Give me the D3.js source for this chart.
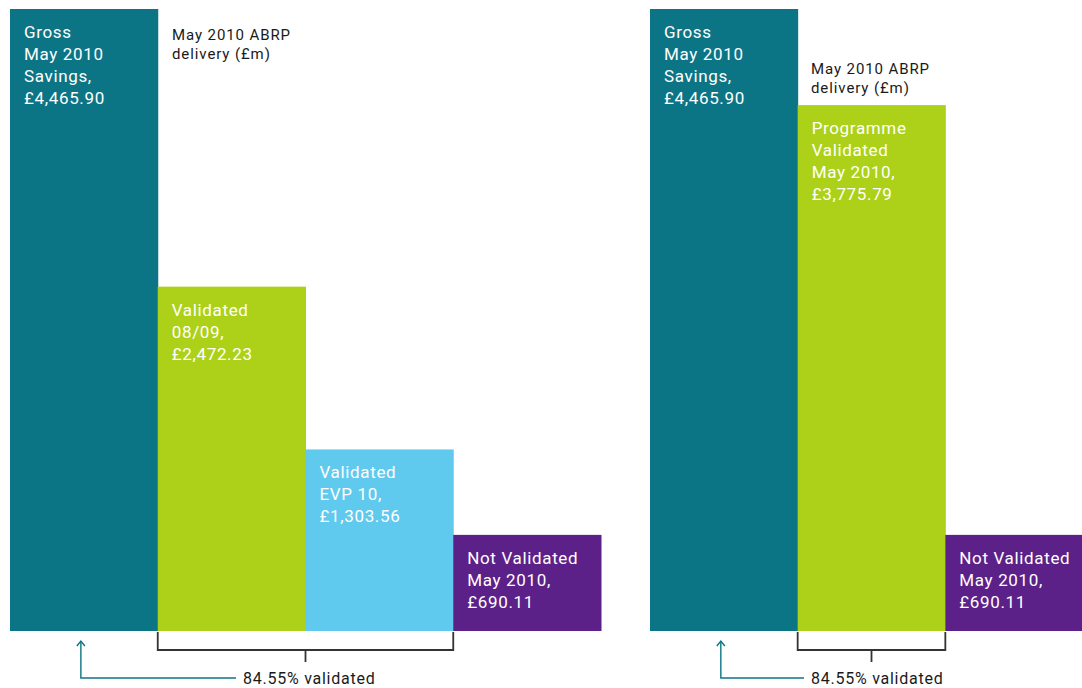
<!DOCTYPE html>
<html>
<head>
<meta charset="utf-8">
<script src="https://cdn.jsdelivr.net/npm/d3@7"></script>
<style>
  body { margin: 0; background: #fff; }
  svg { display: block; font-family: "Roboto", "DejaVu Sans", sans-serif; }
</style>
</head>
<body>
<div id="chart"></div>
<script>
// left panel: breakdown of validation
var leftCats = ["gross", "val0809", "evp10", "notval"];
var leftValues = [4465.90, 2472.23, 1303.56, 690.11];
var leftLabels = [
  ["Gross", "May 2010", "Savings,", "£4,465.90"],
  ["Validated", "08/09,", "£2,472.23"],
  ["Validated", "EVP 10,", "£1,303.56"],
  ["Not Validated", "May 2010,", "£690.11"]
];
var leftValidated = ["val0809", "evp10"];

// right panel: programme total
var rightCats = ["gross", "progval", "notval"];
var rightValues = [4465.90, 3775.79, 690.11];
var rightLabels = [
  ["Gross", "May 2010", "Savings,", "£4,465.90"],
  ["Programme", "Validated", "May 2010,", "£3,775.79"],
  ["Not Validated", "May 2010,", "£690.11"]
];
var rightValidated = ["progval"];

var title = ["May 2010 ABRP", "delivery (£m)"];
var validatedText = "84.55% validated";

var colors = {
  gross: "#0c7585",
  val0809: "#acd118",
  evp10: "#5fcaee",
  progval: "#acd118",
  notval: "#5b2189"
};

var width = 1082, height = 688;
var svg = d3.select("#chart").append("svg")
    .attr("width", width)
    .attr("height", height);

var y = d3.scaleLinear()
    .domain([0, 4465.90])
    .range([631, 9]);

function panel(cats, values, labels, validated, x0, x1, titlePos, textX) {
  var x = d3.scaleBand().domain(cats).range([x0, x1]).padding(0);
  var g = svg.append("g");

  g.selectAll("rect")
    .data(cats)
    .enter().append("rect")
    .attr("x", function(d) { return x(d); })
    .attr("y", function(d, i) { return y(values[i]); })
    .attr("width", x.bandwidth() + 0.5)
    .attr("height", function(d, i) { return y(0) - y(values[i]); })
    .attr("fill", function(d) { return colors[d]; });

  g.selectAll("text.lbl")
    .data(cats)
    .enter().append("text")
    .attr("class", "lbl")
    .attr("x", function(d) { return x(d) + 14; })
    .attr("y", function(d, i) { return y(values[i]) + 29; })
    .attr("fill", "#fff")
    .style("font-size", "17px")
    .style("letter-spacing", "0.65px")
    .each(function(d, i) {
      var t = d3.select(this);
      labels[i].forEach(function(line, j) {
        t.append("tspan")
          .attr("x", x(d) + 14)
          .attr("dy", j === 0 ? 0 : 22)
          .text(line);
      });
    });

  // title
  var tt = g.append("text")
    .attr("x", titlePos[0])
    .attr("y", titlePos[1])
    .attr("fill", "#1a1a1a")
    .style("font-size", "15px")
    .style("letter-spacing", "0.9px");
  title.forEach(function(line, j) {
    tt.append("tspan").attr("x", titlePos[0]).attr("dy", j === 0 ? 0 : 19).text(line);
  });

  // bracket under validated bars
  var bx0 = x(validated[0]);
  var bx1 = x(validated[validated.length - 1]) + x.bandwidth();
  var base = y(0);
  g.append("path")
    .attr("d", "M" + bx0 + "," + (base + 1) + "V" + (base + 19) + "H" + bx1 + "V" + (base + 1))
    .attr("fill", "none")
    .attr("stroke", "#333")
    .attr("stroke-width", 1.8);
  var mid = (bx0 + bx1) / 2;
  g.append("line")
    .attr("x1", mid).attr("x2", mid)
    .attr("y1", base + 19).attr("y2", base + 31)
    .attr("stroke", "#333")
    .attr("stroke-width", 1.8);

  // arrow from text to gross bar
  var ax = x(cats[0]) + x.bandwidth() / 2 - 3;
  g.append("path")
    .attr("d", "M" + ax + "," + (base + 10) + "V" + (base + 47) + "H" + (textX - 7))
    .attr("fill", "none")
    .attr("stroke", "#0c7585")
    .attr("stroke-width", 1.4);
  g.append("path")
    .attr("d", "M" + (ax - 4) + "," + (base + 15) + "L" + ax + "," + (base + 10) + "L" + (ax + 4) + "," + (base + 15))
    .attr("fill", "none")
    .attr("stroke", "#0c7585")
    .attr("stroke-width", 1.4);

  g.append("text")
    .attr("x", textX)
    .attr("y", base + 53)
    .attr("fill", "#1a1a1a")
    .style("font-size", "16px")
    .style("letter-spacing", "0.75px")
    .text(validatedText);
}

panel(leftCats, leftValues, leftLabels, leftValidated, 10, 601, [172, 40], 243);
panel(rightCats, rightValues, rightLabels, rightValidated, 650, 1093, [811, 74], 811);
</script>
</body>
</html>
